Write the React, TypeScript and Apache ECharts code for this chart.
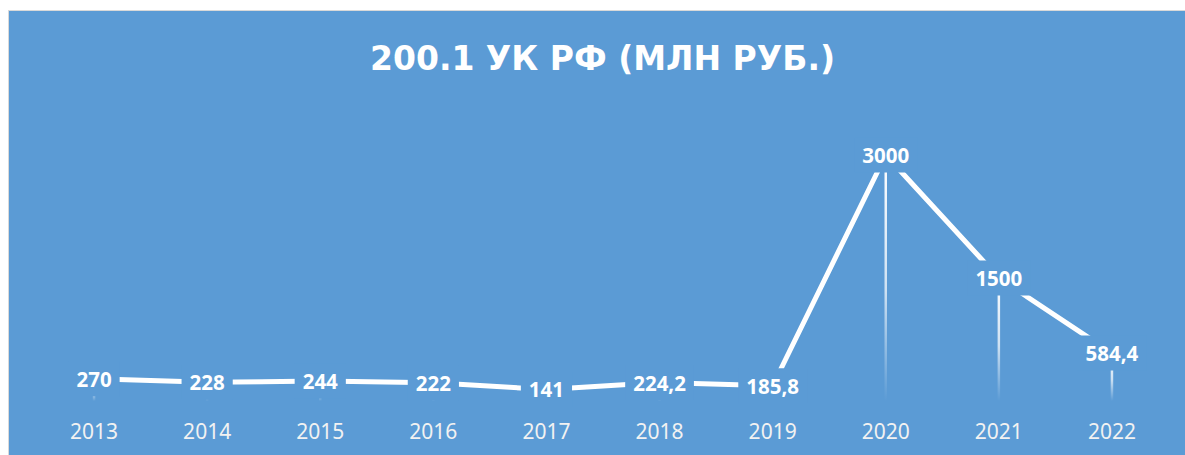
import React, { useEffect, useRef } from "react";
import * as echarts from "echarts";

const titleText = "200.1 УК РФ (МЛН РУБ.)";
const years = ["2013", "2014", "2015", "2016", "2017", "2018", "2019", "2020", "2021", "2022"];
const amounts = [270, 228, 244, 222, 141, 224.2, 185.8, 3000, 1500, 584.4];

const BG = "#5B9BD5";

export default function App() {
  const ref = useRef<HTMLDivElement>(null);
  useEffect(() => {
    if (!ref.current) return;
    const chart = echarts.init(ref.current, undefined, { renderer: "svg" });
    chart.setOption({
      animation: false,
      backgroundColor: BG,
      title: {
        text: titleText,
        left: 356,
        top: 26,
        textStyle: {
          color: "#ffffff",
          fontFamily: "DejaVu Sans",
          fontWeight: "bold",
          fontSize: 33,
        },
      },
      grid: { left: 28.5, right: 16.5, top: 144, bottom: 54 },
      xAxis: {
        type: "category",
        data: years,
        boundaryGap: true,
        axisLine: { show: false },
        axisTick: { show: false },
        axisLabel: {
          color: "#F2F2F2",
          fontFamily: "Noto Sans",
          fontSize: 21,
          margin: 19,
        },
      },
      yAxis: {
        type: "value",
        min: 0,
        max: 3000,
        show: false,
        splitLine: { show: false },
      },
      series: [
        {
          type: "bar",
          data: amounts,
          barWidth: 2.5,
          silent: true,
          itemStyle: {
            color: new echarts.graphic.LinearGradient(0, 0, 0, 1, [
              { offset: 0, color: "rgba(255,255,255,1)" },
              { offset: 0.55, color: "rgba(255,255,255,0.7)" },
              { offset: 1, color: "rgba(255,255,255,0.0)" },
            ]),
          },
          z: 1,
        },
        {
          type: "line",
          data: amounts,
          showSymbol: true,
          symbol: "circle",
          symbolSize: 0,
          lineStyle: { color: "#ffffff", width: 5 },
          itemStyle: { color: "#ffffff" },
          z: 2,
          label: {
            show: true,
            position: "inside",
            formatter: (p: any) => String(p.value).replace(".", ","),
            color: "#ffffff",
            fontFamily: "Noto Sans",
            fontWeight: "bold",
            fontSize: 20.5,
            backgroundColor: BG,
            padding: [7, 8],
          },
          labelLayout: { hideOverlap: false },
        },
      ],
    });
    return () => chart.dispose();
  }, []);
  return (
    <div
      style={{
        position: "fixed",
        left: 8,
        top: 10,
        width: 1177,
        height: 445,
        borderLeft: "1px solid #d9d9d9",
        borderTop: "1px solid #d9d9d9",
        boxSizing: "border-box",
      }}
    >
      <div ref={ref} style={{ width: 1176, height: 444 }} />
    </div>
  );
}
